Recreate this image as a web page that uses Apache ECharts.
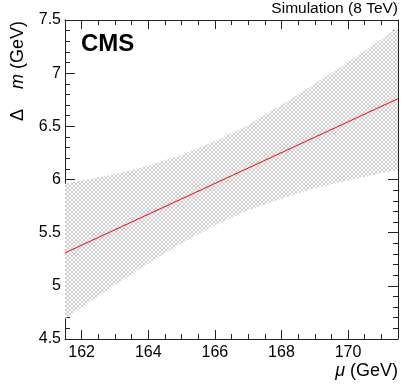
<!DOCTYPE html>
<html>
<head>
<meta charset="utf-8">
<script src="https://cdn.jsdelivr.net/npm/echarts@6/dist/echarts.min.js"></script>
<style>
  html, body { margin: 0; padding: 0; background: #fff; }
  #main { width: 407px; height: 391px; }
</style>
</head>
<body>
<div id="main"></div>
<script>
// 误差带（μ, 上沿, 下沿）
const muBand = [161.5, 162, 163, 164, 165, 166, 167, 168, 169, 170, 171, 171.5]
const bandUpper = [5.96, 5.99, 6.05, 6.13, 6.23, 6.36, 6.51, 6.70, 6.90, 7.10, 7.32, 7.43]
const bandLower = [4.69, 4.80, 5.01, 5.21, 5.40, 5.57, 5.71, 5.82, 5.92, 5.99, 6.06, 6.09]
// 拟合直线
const muLine = [161.5, 171.5]
const fitLine = [5.31, 6.76]
// 刻度
const xMajor = [162, 164, 166, 168, 170]
const xMinor = [162.5, 163, 163.5, 164.5, 165, 165.5, 166.5, 167, 167.5, 168.5, 169, 169.5, 170.5, 171]

const font = 'Liberation Sans, Arial, Helvetica, sans-serif'
const axisColor = '#222'

// hatch pattern
let pat = document.createElement('canvas')
pat.width = 4
pat.height = 4
let ctx = pat.getContext('2d')
ctx.fillStyle = '#fff'
ctx.fillRect(0, 0, 4, 4)
ctx.fillStyle = '#cdcdcd'
for (let i = 0; i < 4; i++) {
  ctx.fillRect(i, i, 1, 1)
  ctx.fillRect(3 - i, i, 1, 1)
}

function xAxisDef(pos, ticks, len, showLine, showLabel) {
  return {
    type: 'value', min: 161.5, max: 171.5, position: pos,
    axisLine: { show: showLine, lineStyle: { color: axisColor, width: 1 } },
    axisTick: { show: true, inside: true, length: len, customValues: ticks, lineStyle: { color: axisColor } },
    axisLabel: showLabel
      ? { show: true, customValues: ticks, color: '#000', fontSize: 16, fontFamily: font, margin: 6 }
      : { show: false },
    splitLine: { show: false }
  }
}

function yAxisDef(pos, showLabel) {
  return {
    type: 'value', min: 4.5, max: 7.5, interval: 0.5, position: pos,
    axisLine: { show: true, lineStyle: { color: axisColor, width: 1 } },
    axisTick: { show: true, inside: true, length: 10, lineStyle: { color: axisColor } },
    minorTick: { show: true, splitNumber: 5, length: 5, lineStyle: { color: axisColor } },
    axisLabel: { show: showLabel, color: '#000', fontSize: 16, fontFamily: font, margin: 4 },
    splitLine: { show: false },
    minorSplitLine: { show: false }
  }
}

let myChart = echarts.init(document.getElementById('main'))
let option = {
  animation: false,
  backgroundColor: '#fff',
  grid: { left: 65, top: 20, right: 9, bottom: 52, containLabel: false },
  xAxis: [
    xAxisDef('bottom', xMajor, 9, true, true),
    xAxisDef('bottom', xMinor, 5, false, false),
    xAxisDef('top', xMajor, 9, true, false),
    xAxisDef('top', xMinor, 5, false, false)
  ],
  yAxis: [
    yAxisDef('left', true),
    yAxisDef('right', false)
  ],
  graphic: [
    { type: 'text', left: 81, top: 32, style: { text: 'CMS', fontSize: 24, fontWeight: 'bold', fontFamily: font, fill: '#000' } },
    { type: 'text', x: 398, y: 9, style: { text: 'Simulation (8 TeV)', fontSize: 15.5, fontFamily: font, fill: '#000', align: 'right', verticalAlign: 'middle' } },
    { type: 'text', x: 398, y: 371, style: {
        text: '{i|μ} (GeV)', fontSize: 18, fontFamily: font, fill: '#000', align: 'right', verticalAlign: 'middle',
        rich: { i: { fontStyle: 'italic', fontSize: 18, fontFamily: font, fill: '#000' } } } },
    { type: 'text', x: 18, y: 21, rotation: Math.PI / 2, style: {
        text: 'Δ    {i|m} (GeV)', fontSize: 18, fontFamily: font, fill: '#000', align: 'right', verticalAlign: 'middle',
        rich: { i: { fontStyle: 'italic', fontSize: 18, fontFamily: font, fill: '#000' } } } }
  ],
  series: [
    {
      type: 'custom',
      xAxisIndex: 0, yAxisIndex: 0,
      data: [0],
      silent: true,
      renderItem: function (params, api) {
        let pts = []
        for (let i = 0; i < muBand.length; i++) pts.push(api.coord([muBand[i], bandUpper[i]]))
        for (let i = muBand.length - 1; i >= 0; i--) pts.push(api.coord([muBand[i], bandLower[i]]))
        return { type: 'polygon', shape: { points: pts }, style: { fill: { image: pat, repeat: 'repeat' }, stroke: null } }
      },
      z: 1
    },
    {
      type: 'line',
      xAxisIndex: 0, yAxisIndex: 0,
      data: muLine.map((m, i) => [m, fitLine[i]]),
      symbol: 'none',
      lineStyle: { color: '#ff0000', width: 1 },
      z: 2
    }
  ]
}
myChart.setOption(option)
</script>
</body>
</html>
